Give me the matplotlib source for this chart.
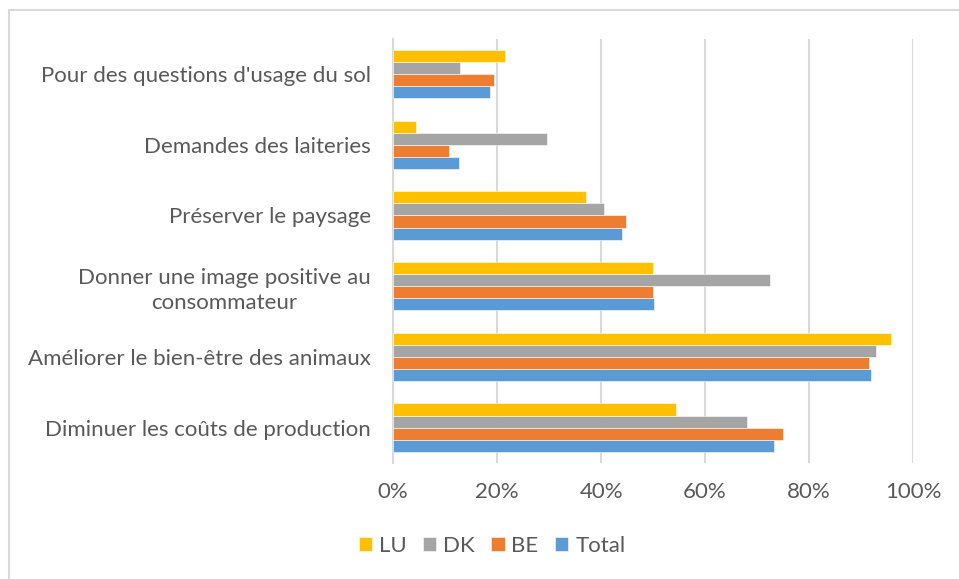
import numpy as np
import matplotlib.pyplot as plt
from matplotlib.patches import Rectangle
from matplotlib.ticker import FuncFormatter

# Categories (bottom to top, as Excel draws them)
categories = ['Diminuer les coûts de production',
              'Améliorer le bien-être des animaux',
              'Donner une image positive au\nconsommateur',
              'Préserver le paysage',
              'Demandes des laiteries',
              "Pour des questions d'usage du sol"]

# Values (share of respondents)
total = [0.733, 0.920, 0.501, 0.440, 0.127, 0.187]
be = [0.750, 0.915, 0.499, 0.448, 0.107, 0.194]
dk = [0.681, 0.929, 0.725, 0.406, 0.296, 0.129]
lu = [0.544, 0.957, 0.500, 0.370, 0.043, 0.216]

series = [('Total', total, '#5B9BD5'),
          ('BE', be, '#ED7D31'),
          ('DK', dk, '#A5A5A5'),
          ('LU', lu, '#FFC000')]

plt.rcParams['font.family'] = ['Lato', 'DejaVu Sans']
text_col = '#595959'
grid_col = '#D9D9D9'
fs = 16

fig = plt.figure(figsize=(9.59, 5.79), dpi=100)
ax = fig.add_axes([0.41, 0.2003, 0.542, 0.733])

y = np.arange(len(categories))
h = 0.171
handles = {}
for i, (name, vals, col) in enumerate(series):
    off = (i - 1.5) * h
    b = ax.barh(y + off, vals, height=h, color=col, edgecolor='white', linewidth=0.4, zorder=3)
    handles[name] = b

ax.set_xlim(0, 1)
ax.set_ylim(-0.5, len(categories) - 0.5)
ax.set_xticks(np.arange(0, 1.01, 0.2))
ax.xaxis.set_major_formatter(FuncFormatter(lambda x, pos: '{:.0f}%'.format(x * 100)))
ax.set_yticks(y)
ax.set_yticklabels(categories, multialignment='center', linespacing=1.3)
ax.tick_params(axis='both', length=0, labelsize=fs, labelcolor=text_col)
ax.tick_params(axis='y', pad=16)
ax.tick_params(axis='x', pad=14)
ax.grid(axis='x', color=grid_col, linewidth=1.5, zorder=0)
for s in ['top', 'right', 'bottom']:
    ax.spines[s].set_visible(False)
ax.spines['left'].set_color(grid_col)
ax.spines['left'].set_linewidth(1.5)

order = ['LU', 'DK', 'BE', 'Total']
leg = fig.legend([handles[n] for n in order], order, loc='center',
                 bbox_to_anchor=(0.513, 0.057), ncol=4, frameon=False,
                 handlelength=0.6, handleheight=0.6, handletextpad=0.3,
                 columnspacing=0.75, fontsize=fs)
for t in leg.get_texts():
    t.set_color(text_col)

# chart area border (only top and left visible in the image)
fig.patches.append(Rectangle((8.5 / 959, -0.05), 1.1, 1.05 - 9.5 / 579,
                             transform=fig.transFigure, fill=False,
                             edgecolor=grid_col, linewidth=1.5))

fig.savefig('out.png', dpi=100)
